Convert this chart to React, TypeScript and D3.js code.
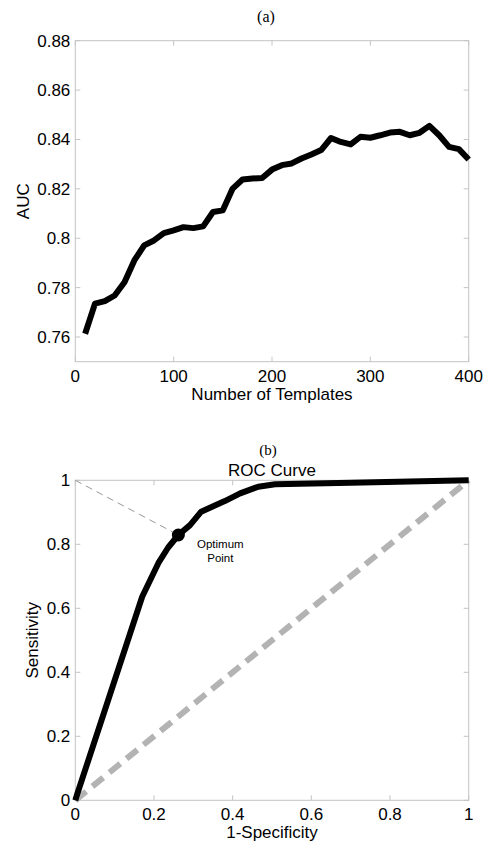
import React from "react";
import * as d3 from "d3";

// ---- Data: panel (a) ----
const templateCounts = [10,20,30,40,50,60,70,80,90,100,110,120,130,140,150,160,170,180,190,200,210,220,230,240,250,260,270,280,290,300,310,320,330,340,350,360,370,380,390,400];
const aucValues = [0.7613,0.7735,0.7745,0.7768,0.7822,0.791,0.7971,0.7991,0.8021,0.8032,0.8045,0.8041,0.8048,0.8106,0.8113,0.8201,0.8238,0.8242,0.8244,0.8278,0.8296,0.8303,0.8323,0.8339,0.8357,0.8406,0.839,0.838,0.8411,0.8407,0.8417,0.8428,0.8431,0.8417,0.8427,0.8455,0.8417,0.837,0.8361,0.8319];
const aTicksX = [0, 100, 200, 300, 400];
const aTicksY = [0.76, 0.78, 0.8, 0.82, 0.84, 0.86, 0.88];

// ---- Data: panel (b) ----
const rocFpr = [0, 0.005, 0.17, 0.211, 0.236, 0.262, 0.2916, 0.32, 0.338, 0.38, 0.419, 0.465, 0.508, 0.7, 1];
const rocTpr = [0, 0.02, 0.636, 0.741, 0.79, 0.829, 0.86, 0.902, 0.912, 0.935, 0.959, 0.98, 0.9875, 0.992, 1];
const optimumPoint = [0.262, 0.829];
const bTicksX = [0, 0.2, 0.4, 0.6, 0.8, 1];
const bTicksY = [0, 0.2, 0.4, 0.6, 0.8, 1];

const SANS = "'Liberation Sans', Arial, Helvetica, sans-serif";
const SERIF = "'Liberation Serif', 'Times New Roman', serif";
const AXIS = "#c4c4c4";
const TICK = 5;

function fmt(v: number) {
  return String(+v.toFixed(2));
}

function Frame({ x, y, xTicks, yTicks, left, right, top, bottom }: any) {
  return (
    <g>
      <rect x={left} y={top} width={right - left} height={bottom - top} fill="none" stroke={AXIS} strokeWidth={1} />
      {xTicks.map((t: number) => (
        <g key={"x" + t}>
          <line x1={x(t)} x2={x(t)} y1={bottom} y2={bottom - TICK} stroke={AXIS} />
          <line x1={x(t)} x2={x(t)} y1={top} y2={top + TICK} stroke={AXIS} />
        </g>
      ))}
      {yTicks.map((t: number) => (
        <g key={"y" + t}>
          <line x1={left} x2={left + TICK} y1={y(t)} y2={y(t)} stroke={AXIS} />
          <line x1={right} x2={right - TICK} y1={y(t)} y2={y(t)} stroke={AXIS} />
        </g>
      ))}
    </g>
  );
}

export default function App() {
  const left = 75.3;
  const right = 468.7;

  // Panel (a)
  const aTop = 40.7;
  const aBottom = 361.7;
  const xa = d3.scaleLinear().domain([0, 400]).range([left, right]);
  const ya = d3.scaleLinear().domain([0.75, 0.88]).range([aBottom, aTop]);
  const aPts = templateCounts.map((c, i) => [c, aucValues[i]] as [number, number]);
  const lineA = d3.line<[number, number]>().x((d) => xa(d[0])).y((d) => ya(d[1]));

  // Panel (b)
  const bTop = 480.3;
  const bBottom = 800.3;
  const xb = d3.scaleLinear().domain([0, 1]).range([left, right]);
  const yb = d3.scaleLinear().domain([0, 1]).range([bBottom, bTop]);
  const rocPts = rocFpr.map((f, i) => [f, rocTpr[i]] as [number, number]);
  const lineB = d3.line<[number, number]>().x((d) => xb(d[0])).y((d) => yb(d[1]));
  const diag = lineB([[0, 0], [1, 1]]);
  const guide = lineB([[0, 1], [optimumPoint[0], optimumPoint[1]]]);

  return (
    <svg width={486} height={848} style={{ position: "absolute", left: 0, top: 0, background: "#fff" }} fontFamily={SANS}>
      <rect x={0} y={0} width={486} height={848} fill="#fff" />

      {/* ---------- Panel (a) ---------- */}
      <text x={266} y={22} fontFamily={SERIF} fontSize={16} textAnchor="middle">(a)</text>
      <Frame x={xa} y={ya} xTicks={aTicksX} yTicks={aTicksY} left={left} right={right} top={aTop} bottom={aBottom} />
      {aTicksY.map((t) => (
        <text key={t} x={left - 5} y={ya(t)} dy="0.35em" fontSize={17} textAnchor="end">{fmt(t)}</text>
      ))}
      {aTicksX.map((t) => (
        <text key={t} x={xa(t)} y={382} fontSize={17} textAnchor="middle">{t}</text>
      ))}
      <text x={(left + right) / 2} y={400} fontSize={17} textAnchor="middle">Number of Templates</text>
      <text transform={`translate(29,${(aTop + aBottom) / 2}) rotate(-90)`} fontSize={17} textAnchor="middle">AUC</text>
      <path d={lineA(aPts) || ""} fill="none" stroke="#000" strokeWidth={6} strokeLinejoin="round" strokeLinecap="butt" />

      {/* ---------- Panel (b) ---------- */}
      <text x={268} y={455} fontFamily={SERIF} fontSize={15} textAnchor="middle">(b)</text>
      <text x={(left + right) / 2} y={476} fontSize={17} textAnchor="middle">ROC Curve</text>
      <Frame x={xb} y={yb} xTicks={bTicksX} yTicks={bTicksY} left={left} right={right} top={bTop} bottom={bBottom} />
      {bTicksY.map((t) => (
        <text key={t} x={left - 5} y={yb(t)} dy="0.35em" fontSize={17} textAnchor="end">{fmt(t)}</text>
      ))}
      {bTicksX.map((t) => (
        <text key={t} x={xb(t)} y={820} fontSize={17} textAnchor="middle">{fmt(t)}</text>
      ))}
      <text x={(left + right) / 2} y={838} fontSize={17} textAnchor="middle">1-Specificity</text>
      <text transform={`translate(38,${(bTop + bBottom) / 2}) rotate(-90)`} fontSize={17} textAnchor="middle">Sensitivity</text>

      <path d={diag || ""} fill="none" stroke="#b3b3b3" strokeWidth={6} strokeDasharray="14,8" />
      <path d={guide || ""} fill="none" stroke="#999" strokeWidth={1} strokeDasharray="7,5" />
      <path d={lineB(rocPts) || ""} fill="none" stroke="#000" strokeWidth={6} strokeLinejoin="round" />
      <circle cx={xb(optimumPoint[0])} cy={yb(optimumPoint[1])} r={6.5} fill="#000" />
      <text x={xb(optimumPoint[0]) + 42} y={548} fontSize={11.5} textAnchor="middle">Optimum</text>
      <text x={xb(optimumPoint[0]) + 42} y={562} fontSize={11.5} textAnchor="middle">Point</text>
    </svg>
  );
}
